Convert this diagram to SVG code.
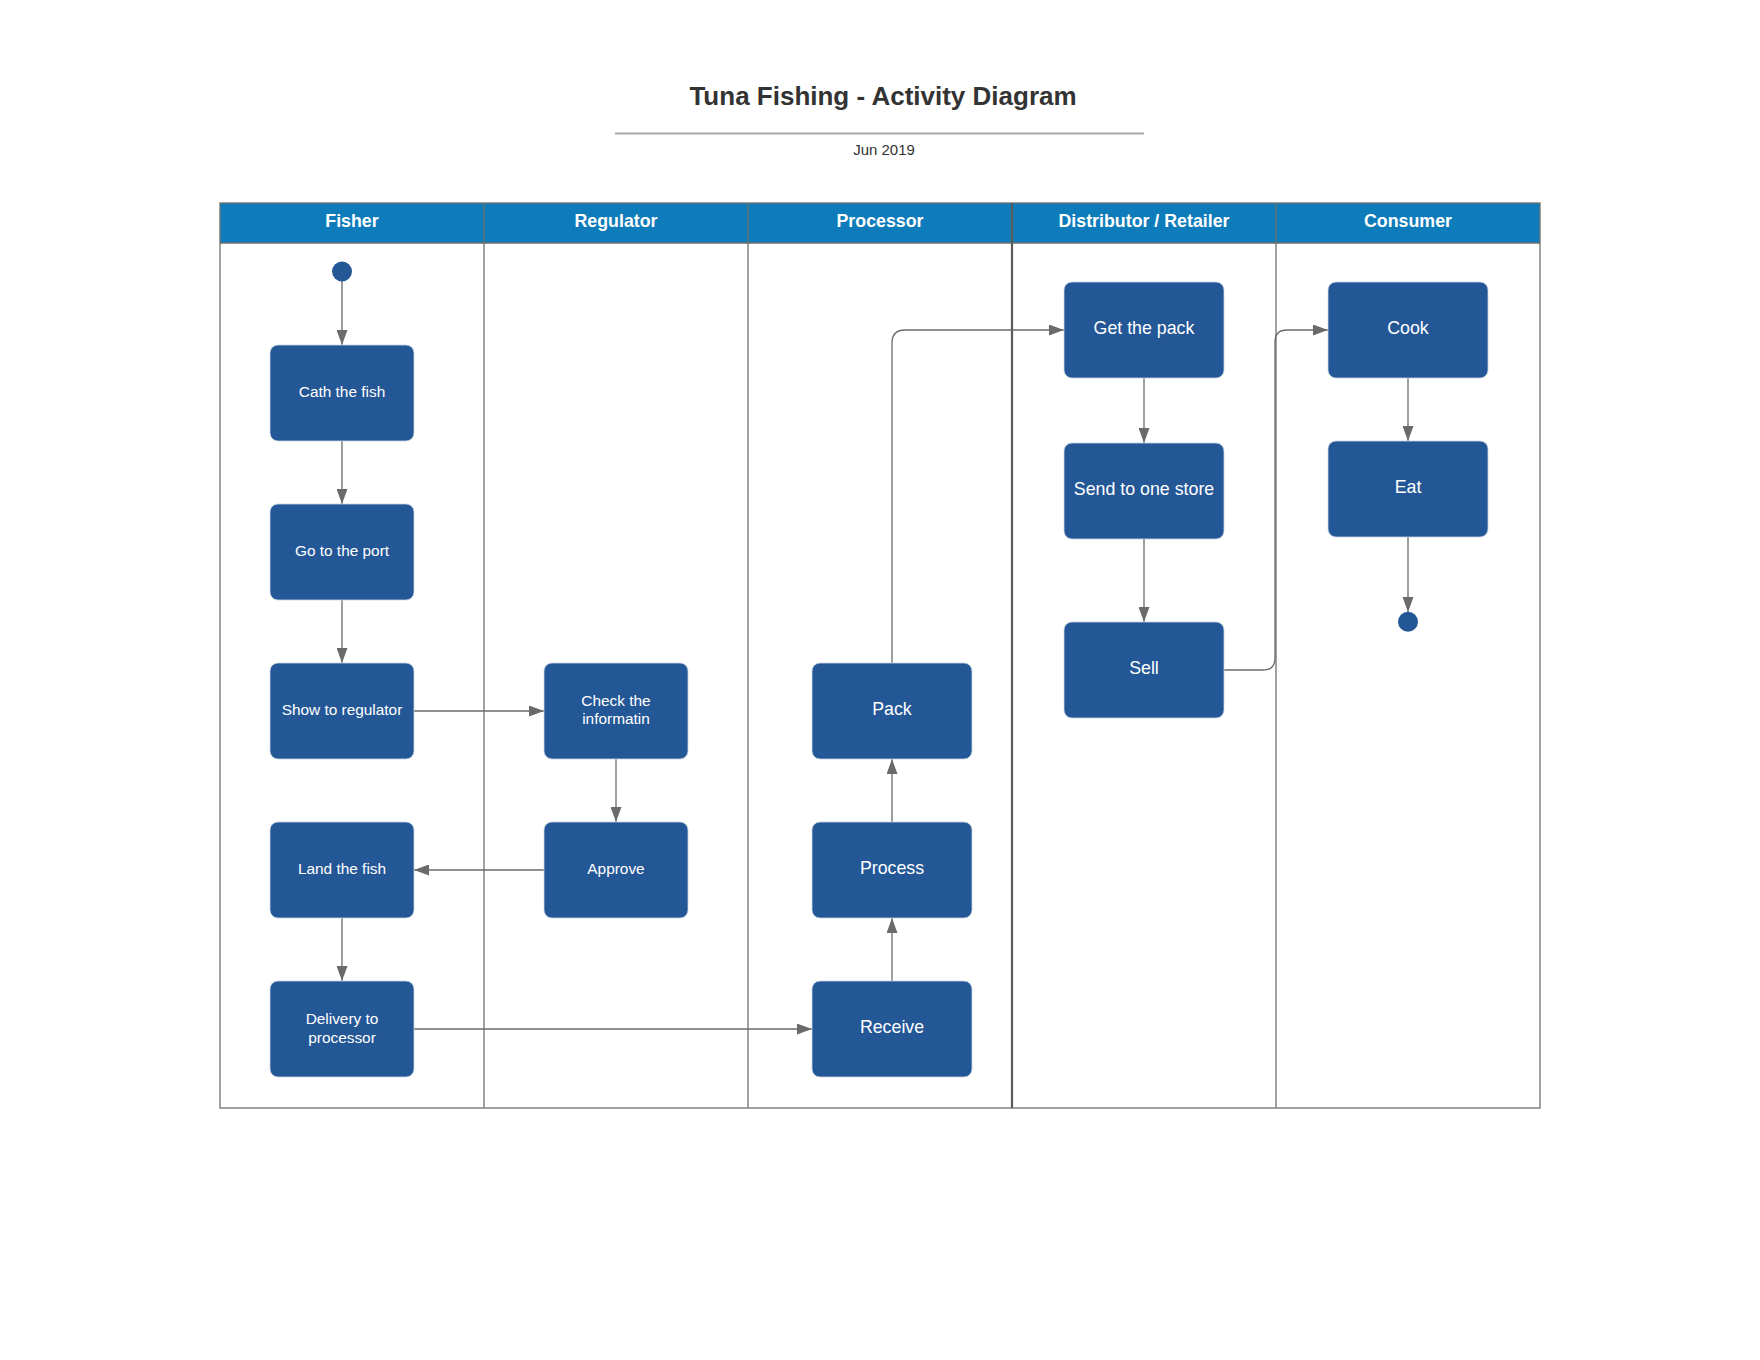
<svg xmlns="http://www.w3.org/2000/svg" width="1760" height="1360" viewBox="0 0 1760 1360">
<style>
.title{font-family:"Liberation Sans",Arial,sans-serif;font-size:26px;font-weight:bold;fill:#333333;text-anchor:middle}
.date{font-family:"Liberation Sans",Arial,sans-serif;font-size:15px;fill:#333333;text-anchor:middle}
.hdr{font-family:"Liberation Sans",Arial,sans-serif;font-size:17.8px;font-weight:bold;fill:#ffffff;text-anchor:middle}
.box{fill:#245796;stroke:#c9d4e6;stroke-width:0.8}
.t15{font-family:"Liberation Sans",Arial,sans-serif;font-size:15.4px;fill:#ffffff;text-anchor:middle}
.t17{font-family:"Liberation Sans",Arial,sans-serif;font-size:17.8px;fill:#ffffff;text-anchor:middle}
.lane{stroke:#6f6f6f;stroke-width:1.3;fill:none}
.conn{stroke:#6a6a6a;stroke-width:1.3;fill:none;marker-end:url(#arr)}
.dot{fill:#245796}
</style>
<defs>
<marker id="arr" markerUnits="userSpaceOnUse" markerWidth="15" markerHeight="11" refX="15" refY="5.5" orient="auto">
<path d="M0,0 L15,5.5 L0,11 z" fill="#6a6a6a"/>
</marker>
</defs>
<rect x="0" y="0" width="1760" height="1360" fill="#ffffff"/>
<g id="header">
<text class="title" x="883" y="105">Tuna Fishing - Activity Diagram</text>
<line x1="615" y1="133.5" x2="1144" y2="133.5" stroke="#aaaaaa" stroke-width="2"/>
<text class="date" x="884" y="155">Jun 2019</text>
</g>
<g id="pool">
<rect x="220" y="203" width="1320" height="40" fill="#0e7cba"/>
<rect x="220" y="203" width="1320" height="905" class="lane"/>
<line x1="220" y1="243" x2="1540" y2="243" class="lane"/>
<line x1="484" y1="203" x2="484" y2="1108" class="lane"/>
<line x1="748" y1="203" x2="748" y2="1108" class="lane"/>
<line x1="1012" y1="203" x2="1012" y2="1108" stroke="#5a5a5a" stroke-width="2.2"/>
<line x1="1276" y1="203" x2="1276" y2="1108" class="lane"/>
<text class="hdr" x="352" y="227">Fisher</text>
<text class="hdr" x="616" y="227">Regulator</text>
<text class="hdr" x="880" y="227">Processor</text>
<text class="hdr" x="1144" y="227">Distributor / Retailer</text>
<text class="hdr" x="1408" y="227">Consumer</text>
</g>
<g id="connectors">
<line class="conn" x1="342" y1="281" x2="342" y2="345"/>
<line class="conn" x1="342" y1="441" x2="342" y2="504"/>
<line class="conn" x1="342" y1="600" x2="342" y2="663"/>
<line class="conn" x1="414" y1="711" x2="544" y2="711"/>
<line class="conn" x1="616" y1="759" x2="616" y2="822"/>
<line class="conn" x1="544" y1="870" x2="414" y2="870"/>
<line class="conn" x1="342" y1="918" x2="342" y2="981"/>
<line class="conn" x1="414" y1="1029" x2="812" y2="1029"/>
<line class="conn" x1="892" y1="981" x2="892" y2="918"/>
<line class="conn" x1="892" y1="822" x2="892" y2="759"/>
<path class="conn" d="M892,663 L892,343 Q892,330 905,330 L1064,330"/>
<line class="conn" x1="1144" y1="378" x2="1144" y2="443"/>
<line class="conn" x1="1144" y1="539" x2="1144" y2="622"/>
<path class="conn" d="M1224,670 L1263,670 Q1275,670 1275,658 L1275,342 Q1275,330 1287,330 L1328,330"/>
<line class="conn" x1="1408" y1="378" x2="1408" y2="441"/>
<line class="conn" x1="1408" y1="537" x2="1408" y2="612"/>
</g>
<g id="start"><circle class="dot" cx="342" cy="271.5" r="10"/></g>
<g id="end"><circle class="dot" cx="1408" cy="621.7" r="10"/></g>
<g id="cath"><rect class="box" x="270" y="345" width="144" height="96" rx="8"/><text class="t15" x="342" y="397">Cath the fish</text></g>
<g id="goport"><rect class="box" x="270" y="504" width="144" height="96" rx="8"/><text class="t15" x="342" y="556">Go to the port</text></g>
<g id="show"><rect class="box" x="270" y="663" width="144" height="96" rx="8"/><text class="t15" x="342" y="715">Show to regulator</text></g>
<g id="land"><rect class="box" x="270" y="822" width="144" height="96" rx="8"/><text class="t15" x="342" y="874">Land the fish</text></g>
<g id="delivery"><rect class="box" x="270" y="981" width="144" height="96" rx="8"/><text class="t15" x="342" y="1024">Delivery to</text><text class="t15" x="342" y="1042.5">processor</text></g>
<g id="check"><rect class="box" x="544" y="663" width="144" height="96" rx="8"/><text class="t15" x="616" y="705.5">Check the</text><text class="t15" x="616" y="724">informatin</text></g>
<g id="approve"><rect class="box" x="544" y="822" width="144" height="96" rx="8"/><text class="t15" x="616" y="874">Approve</text></g>
<g id="pack"><rect class="box" x="812" y="663" width="160" height="96" rx="8"/><text class="t17" x="892" y="715">Pack</text></g>
<g id="process"><rect class="box" x="812" y="822" width="160" height="96" rx="8"/><text class="t17" x="892" y="874">Process</text></g>
<g id="receive"><rect class="box" x="812" y="981" width="160" height="96" rx="8"/><text class="t17" x="892" y="1033">Receive</text></g>
<g id="getpack"><rect class="box" x="1064" y="282" width="160" height="96" rx="8"/><text class="t17" x="1144" y="334">Get the pack</text></g>
<g id="send"><rect class="box" x="1064" y="443" width="160" height="96" rx="8"/><text class="t17" x="1144" y="495">Send to one store</text></g>
<g id="sell"><rect class="box" x="1064" y="622" width="160" height="96" rx="8"/><text class="t17" x="1144" y="674">Sell</text></g>
<g id="cook"><rect class="box" x="1328" y="282" width="160" height="96" rx="8"/><text class="t17" x="1408" y="334">Cook</text></g>
<g id="eat"><rect class="box" x="1328" y="441" width="160" height="96" rx="8"/><text class="t17" x="1408" y="493">Eat</text></g>
</svg>
